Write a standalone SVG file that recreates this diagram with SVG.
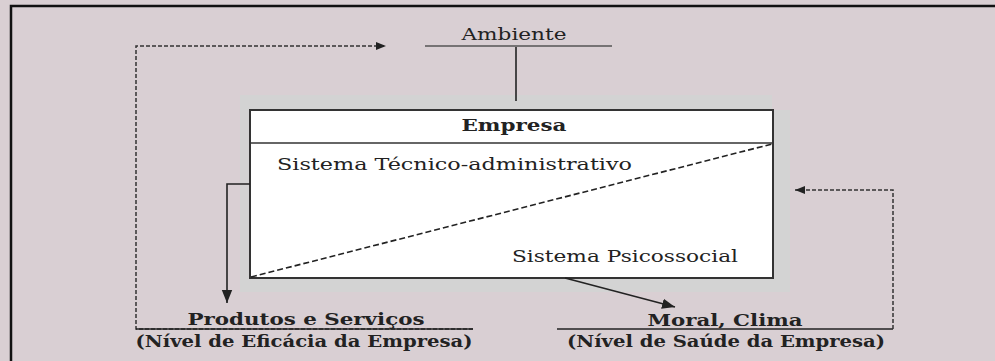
<svg xmlns="http://www.w3.org/2000/svg" width="995" height="361" viewBox="0 0 995 361">
<defs>
<style>
.t{font-family:"DejaVu Serif","Liberation Serif",serif;font-size:17px;fill:#222}
.b{font-weight:bold}
.ln{stroke:#222;stroke-width:1.6;fill:none}
.th{stroke:#555;stroke-width:1.3;fill:none}
.ds{stroke:#333;stroke-width:1.5;fill:none;stroke-dasharray:4 2}
.dg{stroke:#222;stroke-width:1.6;fill:none;stroke-dasharray:6 3}
</style>
<marker id="ah" viewBox="0 0 10 10" refX="10" refY="5" markerWidth="10" markerHeight="10" markerUnits="userSpaceOnUse" orient="auto">
<path d="M0,1 L10,5 L0,9 z" fill="#222"/>
</marker>
<marker id="ahb" viewBox="0 0 10 10" refX="10" refY="5" markerWidth="13" markerHeight="13" markerUnits="userSpaceOnUse" orient="auto">
<path d="M0,1 L10,5 L0,9 z" fill="#222"/>
</marker>
</defs>
<rect x="0" y="0" width="995" height="361" fill="#d9cfd3"/>
<path d="M11,361 V6 H995" stroke="#111" stroke-width="2.5" fill="none"/>
<path d="M240,95 H772 V110 H790 V292 H240 z" fill="#d3d3d3"/>
<g id="ambiente">
<text class="t" x="514" y="40" text-anchor="middle" textLength="105" lengthAdjust="spacingAndGlyphs">Ambiente</text>
<line class="th" x1="425" y1="46" x2="612" y2="46"/>
</g>
<g id="empresa">
<rect x="250" y="110" width="523" height="168" fill="#fff" stroke="#333" stroke-width="2"/>
<line x1="250" y1="143" x2="773" y2="143" stroke="#333" stroke-width="1.6"/>
<text class="t b" x="514" y="131" text-anchor="middle" textLength="105" lengthAdjust="spacingAndGlyphs">Empresa</text>
<text class="t" x="277" y="170" textLength="355" lengthAdjust="spacingAndGlyphs">Sistema Técnico-administrativo</text>
<text class="t" x="512" y="262" textLength="226" lengthAdjust="spacingAndGlyphs">Sistema Psicossocial</text>
</g>
<g id="produtos">
<text class="t b" x="306" y="325" text-anchor="middle" textLength="237" lengthAdjust="spacingAndGlyphs">Produtos e Serviços</text>
<text class="t b" x="304" y="347" text-anchor="middle" font-size="15" textLength="337" lengthAdjust="spacingAndGlyphs">(Nível de Eficácia da Empresa)</text>
</g>
<g id="moral">
<text class="t b" x="725" y="326" text-anchor="middle" textLength="155" lengthAdjust="spacingAndGlyphs">Moral, Clima</text>
<text class="t b" x="726" y="347" text-anchor="middle" font-size="15" textLength="318" lengthAdjust="spacingAndGlyphs">(Nível de Saúde da Empresa)</text>
</g>
<g id="connectors">
<line class="ln" x1="516" y1="47" x2="516" y2="101"/>
<line class="dg" x1="251" y1="277" x2="772" y2="144"/>
<polyline class="ln" points="250,184 227,184 227,303" marker-end="url(#ahb)"/>
<line class="ln" x1="565" y1="278" x2="675" y2="307" marker-end="url(#ahb)"/>
<polyline class="ds" points="473,329 136,329 136,46 386,46" marker-end="url(#ah)"/>
<line class="ln" x1="136" y1="329" x2="473" y2="329"/>
<line class="ln" x1="557" y1="329" x2="893" y2="329"/>
<polyline class="ds" points="893,329 893,190 795,190" marker-end="url(#ah)"/>
</g>
</svg>
